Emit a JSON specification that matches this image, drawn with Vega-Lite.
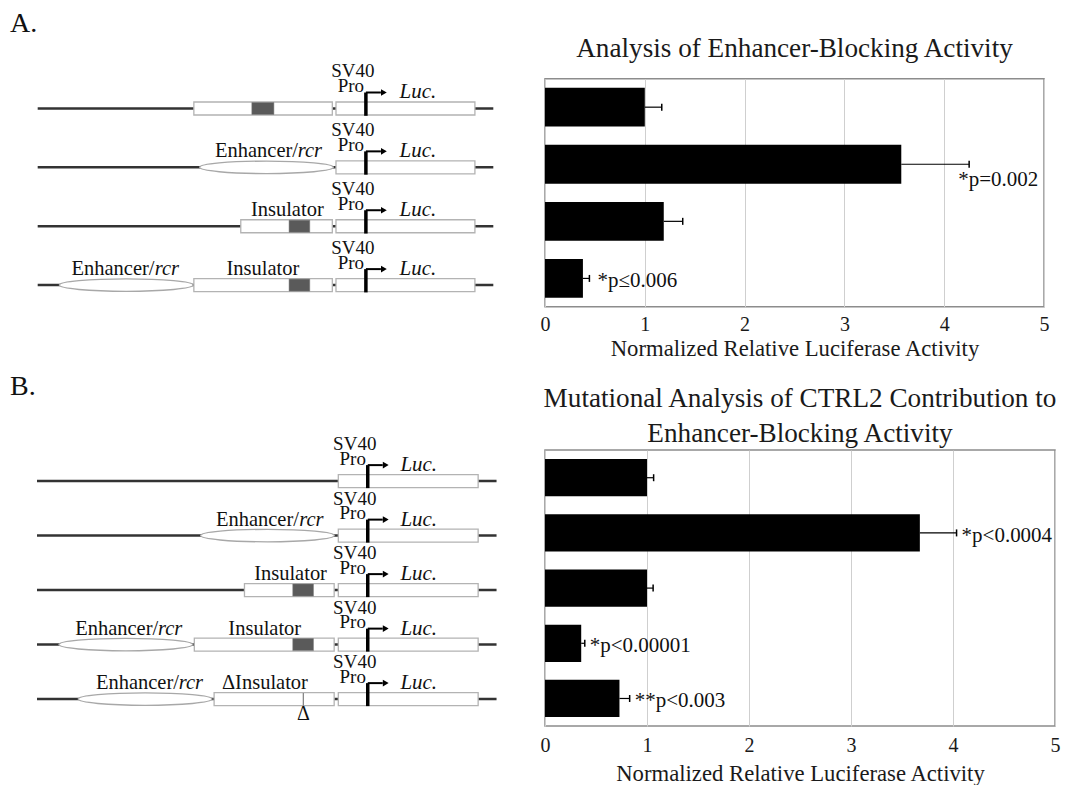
{
  "$schema": "https://vega.github.io/schema/vega-lite/v6.json",
  "background": "white",
  "padding": {"left": 10, "top": 8.8, "right": 0, "bottom": 0},
  "config": {"view": {"stroke": null}, "font": "Liberation Serif"},
  "datasets": {
    "bars": [
      {"panel": "A", "construct": 1, "value": 1.0, "err": 1.17},
      {"panel": "A", "construct": 2, "value": 3.57, "err": 4.25, "label": "*p=0.002"},
      {"panel": "A", "construct": 3, "value": 1.19, "err": 1.38},
      {"panel": "A", "construct": 4, "value": 0.38, "err": 0.445, "label": "*p≤0.006"},
      {"panel": "B", "construct": 1, "value": 1.0, "err": 1.065},
      {"panel": "B", "construct": 2, "value": 3.675, "err": 4.035, "label": "*p<0.0004"},
      {"panel": "B", "construct": 3, "value": 1.0, "err": 1.06},
      {"panel": "B", "construct": 4, "value": 0.355, "err": 0.39, "label": "*p<0.00001"},
      {"panel": "B", "construct": 5, "value": 0.73, "err": 0.83, "label": "**p<0.003"}
    ],
    "parts": [
      {"panel": "A", "row": 1, "kind": "backbone", "x": 0.15, "x2": 99.2},
      {"panel": "A", "row": 2, "kind": "backbone", "x": 0.15, "x2": 99.2},
      {"panel": "A", "row": 3, "kind": "backbone", "x": 0.15, "x2": 99.2},
      {"panel": "A", "row": 4, "kind": "backbone", "x": 0.15, "x2": 99.2},
      {"panel": "A", "row": 1, "kind": "box", "x": 34.1, "x2": 64.2},
      {"panel": "A", "row": 1, "kind": "hatch", "x": 46.7, "x2": 51.5},
      {"panel": "A", "row": 2, "kind": "ellipse", "x": 49.9},
      {"panel": "A", "row": 2, "kind": "label", "x": 38.7, "text": "Enhancer/"},
      {"panel": "A", "row": 2, "kind": "italic", "x": 56.7, "text": "rcr"},
      {"panel": "A", "row": 3, "kind": "box", "x": 44.3, "x2": 64.2},
      {"panel": "A", "row": 3, "kind": "hatch", "x": 54.8, "x2": 59.3},
      {"panel": "A", "row": 3, "kind": "label", "x": 46.5, "text": "Insulator"},
      {"panel": "A", "row": 4, "kind": "ellipse", "x": 19.4},
      {"panel": "A", "row": 4, "kind": "box", "x": 34.1, "x2": 64.2},
      {"panel": "A", "row": 4, "kind": "hatch", "x": 54.8, "x2": 59.3},
      {"panel": "A", "row": 4, "kind": "label", "x": 7.5, "text": "Enhancer/"},
      {"panel": "A", "row": 4, "kind": "italic", "x": 25.6, "text": "rcr"},
      {"panel": "A", "row": 4, "kind": "label", "x": 41.2, "text": "Insulator"},
      {"panel": "A", "row": 1, "kind": "box", "x": 65.0, "x2": 95.2},
      {"panel": "A", "row": 2, "kind": "box", "x": 65.0, "x2": 95.2},
      {"panel": "A", "row": 3, "kind": "box", "x": 65.0, "x2": 95.2},
      {"panel": "A", "row": 4, "kind": "box", "x": 65.0, "x2": 95.2},
      {"panel": "A", "row": 1, "kind": "promoter", "x": 71.5},
      {"panel": "A", "row": 2, "kind": "promoter", "x": 71.5},
      {"panel": "A", "row": 3, "kind": "promoter", "x": 71.5},
      {"panel": "A", "row": 4, "kind": "promoter", "x": 71.5},
      {"panel": "B", "row": 1, "kind": "backbone", "x": 0.0, "x2": 99.9},
      {"panel": "B", "row": 2, "kind": "backbone", "x": 0.0, "x2": 99.9},
      {"panel": "B", "row": 3, "kind": "backbone", "x": 0.0, "x2": 99.9},
      {"panel": "B", "row": 4, "kind": "backbone", "x": 0.0, "x2": 99.9},
      {"panel": "B", "row": 5, "kind": "backbone", "x": 0.0, "x2": 99.9},
      {"panel": "B", "row": 2, "kind": "ellipse", "x": 50.1},
      {"panel": "B", "row": 2, "kind": "label", "x": 38.9, "text": "Enhancer/"},
      {"panel": "B", "row": 2, "kind": "italic", "x": 57.0, "text": "rcr"},
      {"panel": "B", "row": 3, "kind": "box", "x": 45.1, "x2": 64.6},
      {"panel": "B", "row": 3, "kind": "hatch", "x": 55.6, "x2": 60.1},
      {"panel": "B", "row": 3, "kind": "label", "x": 47.2, "text": "Insulator"},
      {"panel": "B", "row": 4, "kind": "ellipse", "x": 19.3},
      {"panel": "B", "row": 4, "kind": "box", "x": 34.2, "x2": 64.6},
      {"panel": "B", "row": 4, "kind": "hatch", "x": 55.6, "x2": 60.1},
      {"panel": "B", "row": 4, "kind": "label", "x": 8.3, "text": "Enhancer/"},
      {"panel": "B", "row": 4, "kind": "italic", "x": 26.3, "text": "rcr"},
      {"panel": "B", "row": 4, "kind": "label", "x": 41.6, "text": "Insulator"},
      {"panel": "B", "row": 5, "kind": "ellipse", "x": 23.5},
      {"panel": "B", "row": 5, "kind": "box", "x": 38.5, "x2": 64.6},
      {"panel": "B", "row": 5, "kind": "delta", "x": 57.9},
      {"panel": "B", "row": 5, "kind": "label", "x": 12.8, "text": "Enhancer/"},
      {"panel": "B", "row": 5, "kind": "italic", "x": 30.8, "text": "rcr"},
      {"panel": "B", "row": 5, "kind": "label", "x": 40.2, "text": "ΔInsulator"},
      {"panel": "B", "row": 1, "kind": "box", "x": 65.5, "x2": 95.9},
      {"panel": "B", "row": 2, "kind": "box", "x": 65.5, "x2": 95.9},
      {"panel": "B", "row": 3, "kind": "box", "x": 65.5, "x2": 95.9},
      {"panel": "B", "row": 4, "kind": "box", "x": 65.5, "x2": 95.9},
      {"panel": "B", "row": 5, "kind": "box", "x": 65.5, "x2": 95.9},
      {"panel": "B", "row": 1, "kind": "promoter", "x": 71.9},
      {"panel": "B", "row": 2, "kind": "promoter", "x": 71.9},
      {"panel": "B", "row": 3, "kind": "promoter", "x": 71.9},
      {"panel": "B", "row": 4, "kind": "promoter", "x": 71.9},
      {"panel": "B", "row": 5, "kind": "promoter", "x": 71.9}
    ]
  },
  "columns": 2,
  "bounds": "flush",
  "align": "none",
  "spacing": {"row": 143.3, "column": 40},
  "concat": [
    {
      "width": 467.3,
      "height": 228,
      "title": {"text": "A.", "anchor": "start", "frame": "group", "font": "Liberation Serif", "fontSize": 28, "fontWeight": "normal", "color": "#111111", "dx": -27, "offset": 2.7, "baseline": "alphabetic"},
      "data": {"name": "parts"},
      "transform": [{"filter": "datum.panel == 'A'"}],
      "encoding": {
        "x": {"field": "x", "type": "quantitative", "scale": {"domain": [0, 101.59], "nice": false, "zero": false}, "axis": null},
        "y": {"field": "row", "type": "quantitative", "scale": {"domain": [0.4955, 4.3685], "reverse": true, "nice": false, "zero": false}, "axis": null}
      },
      "layer": [
        {"transform": [{"filter": "datum.kind == 'backbone'"}], "mark": {"type": "rule", "color": "#333333", "strokeWidth": 2.5}, "encoding": {"x2": {"field": "x2"}}},
        {"transform": [{"filter": "datum.kind == 'box'"}], "mark": {"type": "rect", "fill": "white", "stroke": "#b3b3b3", "strokeWidth": 1.3, "yOffset": -6.5, "y2Offset": 6.5}, "encoding": {"x2": {"field": "x2"}, "y2": {"field": "row"}}},
        {"transform": [{"filter": "datum.kind == 'hatch'"}], "mark": {"type": "rect", "fill": "#5a5a5a", "stroke": "#7a7a7a", "strokeWidth": 0.5, "yOffset": -6, "y2Offset": 6}, "encoding": {"x2": {"field": "x2"}, "y2": {"field": "row"}}},
        {"transform": [{"filter": "datum.kind == 'ellipse'"}], "mark": {"type": "point", "shape": "M-1,0C-1,-0.0514,-0.5523,-0.093,0,-0.093C0.5523,-0.093,1,-0.0514,1,0C1,0.0514,0.5523,0.093,0,0.093C-0.5523,0.093,-1,0.0514,-1,0Z", "size": 17900, "filled": true, "fill": "white", "stroke": "#a8a8a8", "strokeWidth": 1.3, "opacity": 1}},
        {"transform": [{"filter": "datum.kind == 'promoter'"}], "mark": {"type": "rule", "color": "black", "strokeWidth": 3.5, "yOffset": -16, "y2Offset": 7.3}, "encoding": {"y2": {"field": "row"}}},
        {"transform": [{"filter": "datum.kind == 'promoter'"}], "mark": {"type": "rule", "color": "black", "strokeWidth": 2, "x2Offset": 15, "yOffset": -16}, "encoding": {"x2": {"field": "x"}}},
        {"transform": [{"filter": "datum.kind == 'promoter'"}], "mark": {"type": "point", "shape": "triangle-right", "size": 45, "filled": true, "color": "black", "opacity": 1, "xOffset": 18, "yOffset": -16}},
        {"transform": [{"filter": "datum.kind == 'label'"}], "mark": {"type": "text", "align": "left", "baseline": "alphabetic", "dy": -10, "fontSize": 20.5, "font": "Liberation Serif", "color": "#111111"}, "encoding": {"text": {"field": "text"}}},
        {"transform": [{"filter": "datum.kind == 'italic'"}], "mark": {"type": "text", "align": "left", "baseline": "alphabetic", "dy": -10, "fontSize": 20.5, "font": "Liberation Serif", "fontStyle": "italic", "color": "#111111"}, "encoding": {"text": {"field": "text"}}},
        {"transform": [{"filter": "datum.kind == 'promoter'"}], "mark": {"type": "text", "text": "SV40", "align": "center", "baseline": "alphabetic", "dx": -13, "dy": -31, "fontSize": 19, "font": "Liberation Serif", "color": "#111111"}},
        {"transform": [{"filter": "datum.kind == 'promoter'"}], "mark": {"type": "text", "text": "Pro", "align": "center", "baseline": "alphabetic", "dx": -15, "dy": -16.5, "fontSize": 19, "font": "Liberation Serif", "color": "#111111"}},
        {"transform": [{"filter": "datum.kind == 'promoter'"}], "mark": {"type": "text", "text": "Luc.", "align": "center", "baseline": "alphabetic", "dx": 52, "dy": -10, "fontSize": 21, "font": "Liberation Serif", "fontStyle": "italic", "color": "#111111"}}
      ]
    },
    {
      "width": 499,
      "height": 228,
      "view": {"stroke": "#8c8c8c", "strokeWidth": 1.5},
      "title": {"text": "Analysis of Enhancer-Blocking Activity", "anchor": "middle", "font": "Liberation Serif", "fontSize": 27.2, "fontWeight": "normal", "color": "#1a1a1a", "offset": -5.1, "baseline": "alphabetic"},
      "data": {"name": "bars"},
      "transform": [{"filter": "datum.panel == 'A'"}],
      "encoding": {"y": {"field": "construct", "type": "ordinal", "axis": null, "scale": {"paddingInner": 0.32, "paddingOuter": 0.157}}},
      "layer": [
        {"mark": {"type": "bar", "color": "black"}, "encoding": {"x": {"field": "value", "type": "quantitative", "scale": {"domain": [0, 5], "nice": false}, "axis": {"values": [0, 1, 2, 3, 4, 5], "format": "d", "domain": false, "ticks": false, "grid": true, "gridColor": "#cfcfcf", "gridWidth": 1, "labelFlush": false, "labelFont": "Liberation Serif", "labelFontSize": 20, "labelColor": "#1a1a1a", "labelPadding": 8, "title": "Normalized Relative Luciferase Activity", "titleFont": "Liberation Serif", "titleFontSize": 22.7, "titleFontWeight": "normal", "titleColor": "#1a1a1a", "titlePadding": 3}}}},
        {"mark": {"type": "rule", "color": "black", "strokeWidth": 1.2}, "encoding": {"x": {"field": "value", "type": "quantitative"}, "x2": {"field": "err"}}},
        {"mark": {"type": "tick", "color": "black", "thickness": 1.5, "size": 7, "opacity": 1}, "encoding": {"x": {"field": "err", "type": "quantitative"}}},
        {"transform": [{"filter": "datum.construct == 2"}], "mark": {"type": "text", "align": "left", "baseline": "middle", "dx": -11, "dy": 16, "fontSize": 21, "font": "Liberation Serif", "color": "#111111"}, "encoding": {"x": {"field": "err", "type": "quantitative"}, "text": {"field": "label"}}},
        {"transform": [{"filter": "datum.construct == 4"}], "mark": {"type": "text", "align": "left", "baseline": "middle", "dx": 8, "dy": 3, "fontSize": 21, "font": "Liberation Serif", "color": "#111111"}, "encoding": {"x": {"field": "err", "type": "quantitative"}, "text": {"field": "label"}}}
      ]
    },
    {
      "width": 463,
      "height": 276,
      "title": {"text": "B.", "anchor": "start", "frame": "group", "font": "Liberation Serif", "fontSize": 28, "fontWeight": "normal", "color": "#111111", "dx": -27, "offset": 12.3, "baseline": "alphabetic"},
      "data": {"name": "parts"},
      "transform": [{"filter": "datum.panel == 'B'"}],
      "encoding": {
        "x": {"field": "x", "type": "quantitative", "scale": {"domain": [0, 100.65], "nice": false, "zero": false}, "axis": null},
        "y": {"field": "row", "type": "quantitative", "scale": {"domain": [0.431, 5.495], "reverse": true, "nice": false, "zero": false}, "axis": null}
      },
      "layer": [
        {"transform": [{"filter": "datum.kind == 'backbone'"}], "mark": {"type": "rule", "color": "#333333", "strokeWidth": 2.5}, "encoding": {"x2": {"field": "x2"}}},
        {"transform": [{"filter": "datum.kind == 'box'"}], "mark": {"type": "rect", "fill": "white", "stroke": "#b3b3b3", "strokeWidth": 1.3, "yOffset": -6.5, "y2Offset": 6.5}, "encoding": {"x2": {"field": "x2"}, "y2": {"field": "row"}}},
        {"transform": [{"filter": "datum.kind == 'hatch'"}], "mark": {"type": "rect", "fill": "#5a5a5a", "stroke": "#7a7a7a", "strokeWidth": 0.5, "yOffset": -6, "y2Offset": 6}, "encoding": {"x2": {"field": "x2"}, "y2": {"field": "row"}}},
        {"transform": [{"filter": "datum.kind == 'ellipse'"}], "mark": {"type": "point", "shape": "M-1,0C-1,-0.0514,-0.5523,-0.093,0,-0.093C0.5523,-0.093,1,-0.0514,1,0C1,0.0514,0.5523,0.093,0,0.093C-0.5523,0.093,-1,0.0514,-1,0Z", "size": 17900, "filled": true, "fill": "white", "stroke": "#a8a8a8", "strokeWidth": 1.3, "opacity": 1}},
        {"transform": [{"filter": "datum.kind == 'delta'"}], "mark": {"type": "rule", "color": "#888888", "strokeWidth": 1.3, "yOffset": -6, "y2Offset": 9}, "encoding": {"y2": {"field": "row"}}},
        {"transform": [{"filter": "datum.kind == 'delta'"}], "mark": {"type": "text", "text": "Δ", "align": "center", "baseline": "middle", "dy": 15, "fontSize": 20, "font": "Liberation Serif", "color": "#111111"}},
        {"transform": [{"filter": "datum.kind == 'promoter'"}], "mark": {"type": "rule", "color": "black", "strokeWidth": 3.5, "yOffset": -16, "y2Offset": 7}, "encoding": {"y2": {"field": "row"}}},
        {"transform": [{"filter": "datum.kind == 'promoter'"}], "mark": {"type": "rule", "color": "black", "strokeWidth": 2, "x2Offset": 15, "yOffset": -16}, "encoding": {"x2": {"field": "x"}}},
        {"transform": [{"filter": "datum.kind == 'promoter'"}], "mark": {"type": "point", "shape": "triangle-right", "size": 45, "filled": true, "color": "black", "opacity": 1, "xOffset": 18, "yOffset": -16}},
        {"transform": [{"filter": "datum.kind == 'label'"}], "mark": {"type": "text", "align": "left", "baseline": "alphabetic", "dy": -10, "fontSize": 20.5, "font": "Liberation Serif", "color": "#111111"}, "encoding": {"text": {"field": "text"}}},
        {"transform": [{"filter": "datum.kind == 'italic'"}], "mark": {"type": "text", "align": "left", "baseline": "alphabetic", "dy": -10, "fontSize": 20.5, "font": "Liberation Serif", "fontStyle": "italic", "color": "#111111"}, "encoding": {"text": {"field": "text"}}},
        {"transform": [{"filter": "datum.kind == 'promoter'"}], "mark": {"type": "text", "text": "SV40", "align": "center", "baseline": "alphabetic", "dx": -13, "dy": -31, "fontSize": 19, "font": "Liberation Serif", "color": "#111111"}},
        {"transform": [{"filter": "datum.kind == 'promoter'"}], "mark": {"type": "text", "text": "Pro", "align": "center", "baseline": "alphabetic", "dx": -15, "dy": -16.5, "fontSize": 19, "font": "Liberation Serif", "color": "#111111"}},
        {"transform": [{"filter": "datum.kind == 'promoter'"}], "mark": {"type": "text", "text": "Luc.", "align": "center", "baseline": "alphabetic", "dx": 51, "dy": -10, "fontSize": 21, "font": "Liberation Serif", "fontStyle": "italic", "color": "#111111"}}
      ]
    },
    {
      "width": 510,
      "height": 276,
      "view": {"stroke": "#8c8c8c", "strokeWidth": 1.5},
      "title": {"text": ["Mutational Analysis of CTRL2 Contribution to", "Enhancer-Blocking Activity"], "anchor": "middle", "font": "Liberation Serif", "fontSize": 27.2, "fontWeight": "normal", "color": "#1a1a1a", "offset": -19.5, "lineHeight": 35, "baseline": "alphabetic"},
      "data": {"name": "bars"},
      "transform": [{"filter": "datum.panel == 'B'"}],
      "encoding": {"y": {"field": "construct", "type": "ordinal", "axis": null, "scale": {"paddingInner": 0.325, "paddingOuter": 0.163}}},
      "layer": [
        {"mark": {"type": "bar", "color": "black"}, "encoding": {"x": {"field": "value", "type": "quantitative", "scale": {"domain": [0, 5], "nice": false}, "axis": {"values": [0, 1, 2, 3, 4, 5], "format": "d", "domain": false, "ticks": false, "grid": true, "gridColor": "#cfcfcf", "gridWidth": 1, "labelFlush": false, "labelFont": "Liberation Serif", "labelFontSize": 20, "labelColor": "#1a1a1a", "labelPadding": 9, "title": "Normalized Relative Luciferase Activity", "titleFont": "Liberation Serif", "titleFontSize": 22.7, "titleFontWeight": "normal", "titleColor": "#1a1a1a", "titlePadding": 7}}}},
        {"mark": {"type": "rule", "color": "black", "strokeWidth": 1.2}, "encoding": {"x": {"field": "value", "type": "quantitative"}, "x2": {"field": "err"}}},
        {"mark": {"type": "tick", "color": "black", "thickness": 1.5, "size": 7, "opacity": 1}, "encoding": {"x": {"field": "err", "type": "quantitative"}}},
        {"transform": [{"filter": "isValid(datum.label)"}], "mark": {"type": "text", "align": "left", "baseline": "middle", "dx": 5, "dy": 3, "fontSize": 21, "font": "Liberation Serif", "color": "#111111"}, "encoding": {"x": {"field": "err", "type": "quantitative"}, "text": {"field": "label"}}}
      ]
    }
  ]
}
